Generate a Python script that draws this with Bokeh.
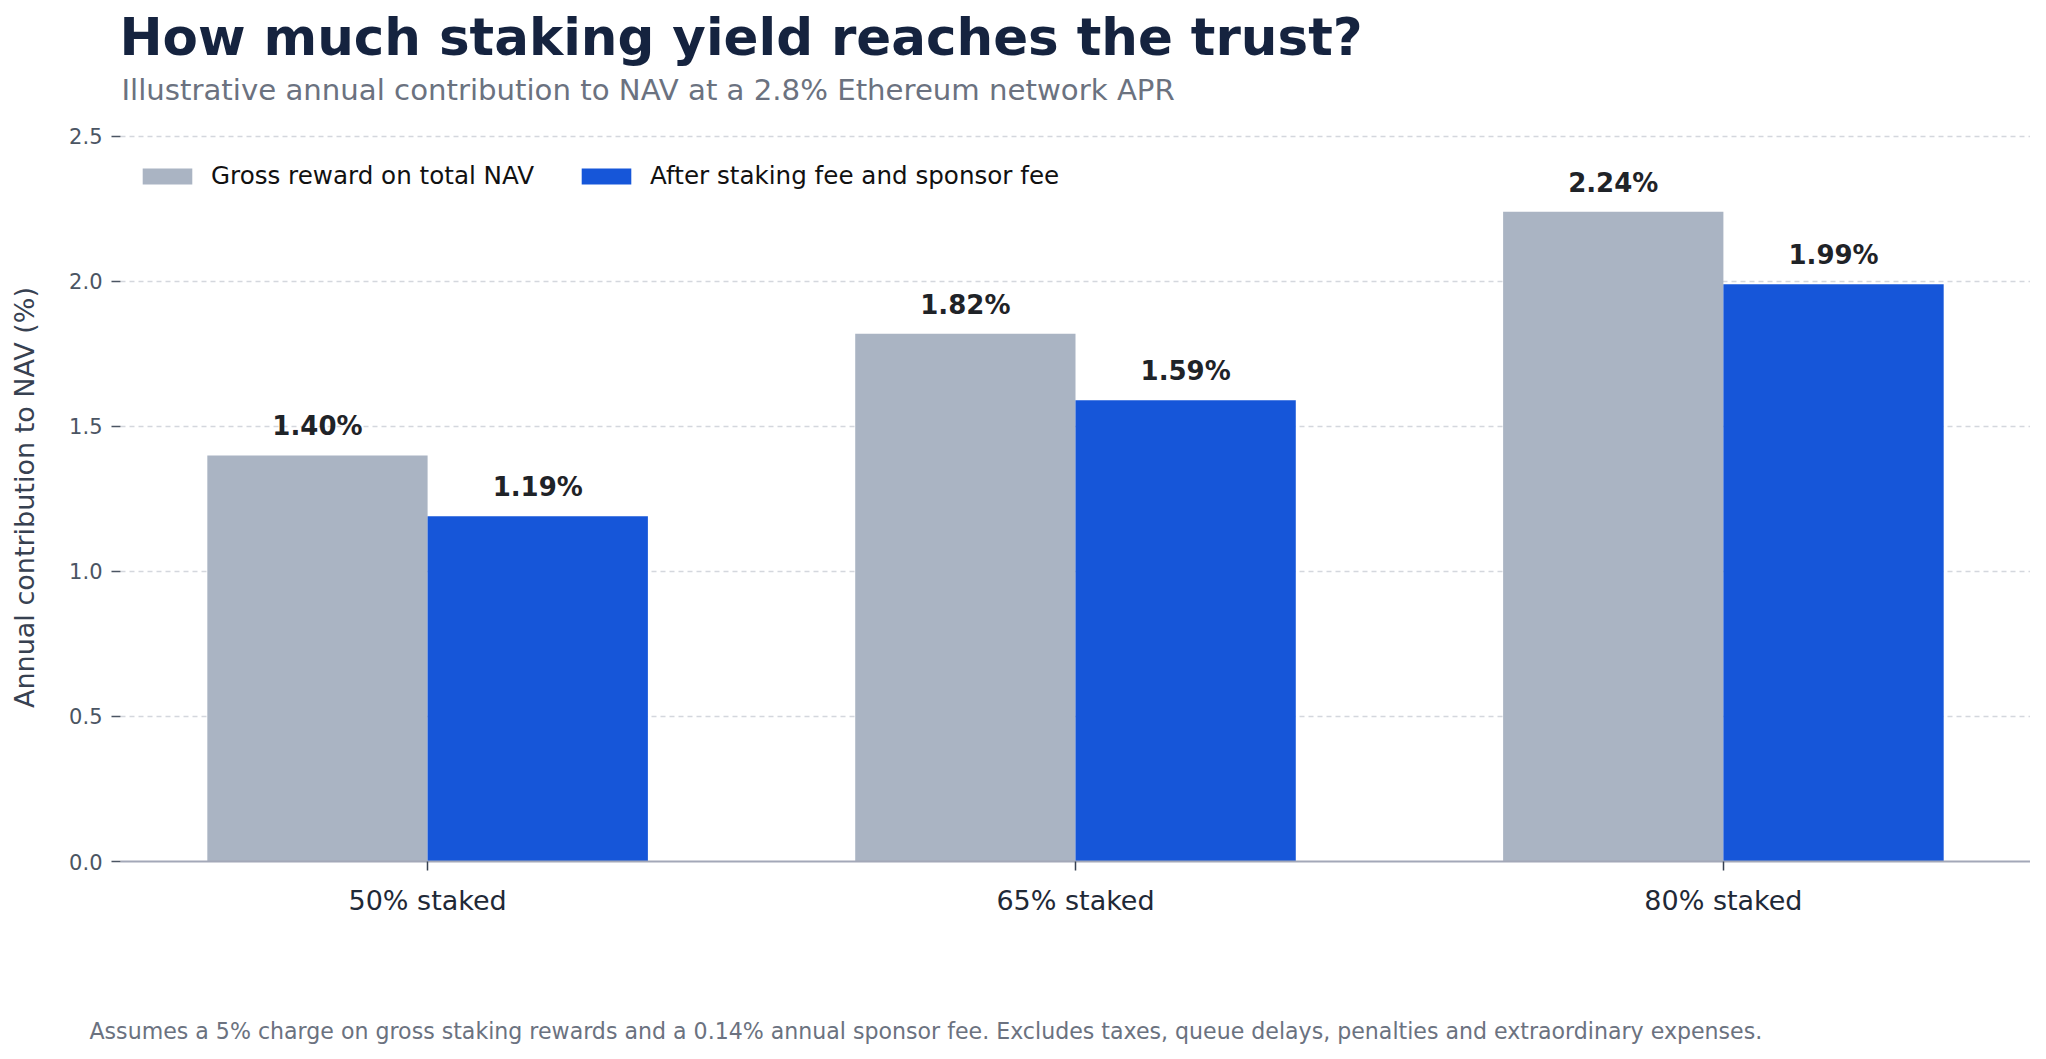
from bokeh.plotting import figure
from bokeh.models import (ColumnDataSource, Range1d, FixedTicker, Legend, LegendItem,
                          Title, NumeralTickFormatter, LinearAxis)
from bokeh.transform import dodge
from bokeh.embed import file_html
from bokeh.resources import INLINE
from bokeh.core.properties import value

# ---- data ----
categories = ["50% staked", "65% staked", "80% staked"]
gross = [1.40, 1.82, 2.24]
after_fees = [1.19, 1.59, 1.99]
y_ticks = [0.0, 0.5, 1.0, 1.5, 2.0, 2.5]

title_text = "How much staking yield reaches the trust?"
subtitle_text = "Illustrative annual contribution to NAV at a 2.8% Ethereum network APR"
footnote_text = ("Assumes a 5% charge on gross staking rewards and a 0.14% annual sponsor fee. "
                 "Excludes taxes, queue delays, penalties and extraordinary expenses.")
series_names = ["Gross reward on total NAV", "After staking fee and sponsor fee"]

FONT = "DejaVu Sans"
GRAY = "#aab4c3"
BLUE = "#1656d9"
BAR_W = 0.34

idx = list(range(len(categories)))
src = ColumnDataSource(dict(
    x=idx,
    gross=gross,
    after=after_fees,
    gross_lbl=[f"{v:.2f}%" for v in gross],
    after_lbl=[f"{v:.2f}%" for v in after_fees],
))

p = figure(width=2030, height=1051, output_backend="svg", toolbar_location=None,
           x_range=Range1d(-0.474, 2.474), y_range=Range1d(0, 2.51),
           min_border_left=120, min_border_right=0, min_border_top=133,
           min_border_bottom=190)
p.outline_line_color = None
p.background_fill_color = "white"
p.border_fill_color = "white"

r1 = p.vbar(x=dodge("x", -BAR_W / 2, range=p.x_range), top="gross", width=BAR_W,
            source=src, fill_color=GRAY, line_color=None)
r2 = p.vbar(x=dodge("x", BAR_W / 2, range=p.x_range), top="after", width=BAR_W,
            source=src, fill_color=BLUE, line_color=None)

lbl_kw = dict(text_font=value(FONT), text_font_size="26px", text_font_style="bold",
              text_color="#1f2328", text_align="center", text_baseline="alphabetic",
              y_offset=-29)
p.text(x=dodge("x", -BAR_W / 2, range=p.x_range), y="gross", text="gross_lbl",
       source=src, **lbl_kw)
p.text(x=dodge("x", BAR_W / 2, range=p.x_range), y="after", text="after_lbl",
       source=src, **lbl_kw)

# grid
p.xgrid.grid_line_color = None
p.ygrid.grid_line_color = "#d4d7dd"
p.ygrid.grid_line_width = 1.5
p.ygrid.grid_line_dash = "5 4"
p.ygrid.ticker = FixedTicker(ticks=y_ticks)

# y axis
ya = p.yaxis[0]
ya.ticker = FixedTicker(ticks=y_ticks)
ya.formatter = NumeralTickFormatter(format="0.0")
ya.axis_line_color = None
ya.major_tick_line_color = "#4b5563"
ya.major_tick_line_width = 1.5
ya.major_tick_out = 9
ya.major_tick_in = 0
ya.minor_tick_line_color = None
ya.major_label_text_font = FONT
ya.major_label_text_font_size = "21px"
ya.major_label_text_color = "#4b5563"
ya.major_label_standoff = 9
ya.axis_label = "Annual contribution to NAV (%)"
ya.axis_label_text_font = FONT
ya.axis_label_text_font_size = "27px"
ya.axis_label_text_font_style = "normal"
ya.axis_label_text_color = "#374151"
ya.axis_label_standoff = 26

# x axis
xa = p.xaxis[0]
xa.ticker = FixedTicker(ticks=idx)
xa.major_label_overrides = {i: c for i, c in zip(idx, categories)}
xa.axis_line_color = "#a3a8b8"
xa.axis_line_width = 2
xa.major_tick_line_color = "#374151"
xa.major_tick_line_width = 1.5
xa.major_tick_out = 9
xa.major_tick_in = 0
xa.minor_tick_line_color = None
xa.major_label_text_font = FONT
xa.major_label_text_font_size = "27px"
xa.major_label_text_color = "#1f2937"
xa.major_label_standoff = 14


def spacer_axis(size):
    # an axis with one invisible tick and no label, only used to reserve vertical space
    return LinearAxis(ticker=FixedTicker(ticks=[idx[0]]), axis_line_color=None,
                      major_tick_line_color="white", major_tick_line_width=1,
                      minor_tick_line_color=None,
                      major_tick_out=size, major_tick_in=0, minor_tick_out=0,
                      minor_tick_in=0, major_label_standoff=0,
                      major_label_overrides={idx[0]: ""},
                      major_label_text_font_size="0px")


# legend
legend = Legend(items=[LegendItem(label=series_names[0], renderers=[r1]),
                       LegendItem(label=series_names[1], renderers=[r2])],
                orientation="horizontal", location=(16, 671),
                glyph_width=62, glyph_height=20, label_standoff=13, spacing=41,
                padding=0, margin=0, border_line_color=None, background_fill_alpha=0,
                label_text_font=FONT, label_text_font_size="24.6px",
                label_text_color="#111111")
p.add_layout(legend, "center")

# above: spacer, subtitle, title (stacked outward from the frame)
p.add_layout(spacer_axis(23), "above")
p.add_layout(Title(text=subtitle_text, align="left", offset=1, standoff=8,
                   text_font=FONT, text_font_size="29.2px", text_font_style="normal",
                   text_color="#6b7280"), "above")
p.add_layout(Title(text=title_text, align="left", offset=-1, standoff=0,
                   text_font=FONT, text_font_size="51.5px", text_font_style="bold",
                   text_color="#15233f"), "above")

# below: x axis, spacer, footnote
p.add_layout(spacer_axis(96), "below")
p.add_layout(Title(text=footnote_text, align="left", offset=-31, standoff=2,
                   text_font=FONT, text_font_size="22.1px", text_font_style="normal",
                   text_color="#6b7280"), "below")

open("out.html", "w").write(file_html(p, INLINE))
